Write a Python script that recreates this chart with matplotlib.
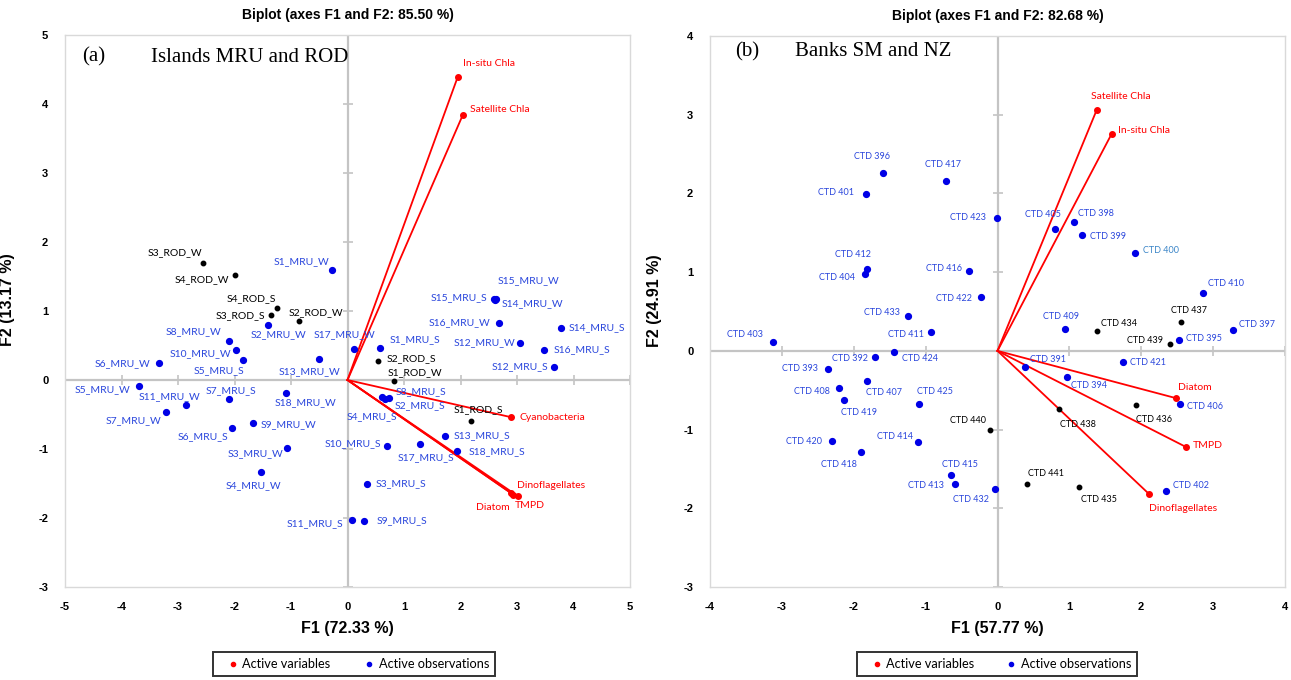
import matplotlib
matplotlib.use("Agg")
import matplotlib.pyplot as plt
from matplotlib.lines import Line2D

plt.rcParams["axes.unicode_minus"] = False

# ---- (a) Islands MRU and ROD -------------------------------------------
vars_a = ["In-situ Chla", "Satellite Chla", "Cyanobacteria",
          "Dinoflagellates", "Diatom", "TMPD"]
vars_a_f1 = [1.95, 2.04, 2.90, 2.90, 2.93, 3.01]
vars_a_f2 = [4.39, 3.84, -0.54, -1.64, -1.66, -1.68]

obs_a = ["S3_ROD_W", "S4_ROD_W", "S1_MRU_W", "S4_ROD_S", "S3_ROD_S", "S2_MRU_W",
         "S2_ROD_W", "S8_MRU_W", "S10_MRU_W", "S5_MRU_S", "S6_MRU_W", "S13_MRU_W",
         "S17_MRU_W", "S5_MRU_W", "S11_MRU_W", "S7_MRU_W", "S7_MRU_S", "S18_MRU_W",
         "S9_MRU_W", "S6_MRU_S", "S3_MRU_W", "S4_MRU_W", "S1_MRU_S", "S2_ROD_S",
         "S1_ROD_W", "S8_MRU_S", "S2_MRU_S", "S4_MRU_S", "S1_ROD_S", "S13_MRU_S",
         "S10_MRU_S", "S17_MRU_S", "S18_MRU_S", "S3_MRU_S", "S11_MRU_S", "S9_MRU_S",
         "S15_MRU_S", "S15_MRU_W", "S14_MRU_W", "S16_MRU_W", "S14_MRU_S", "S12_MRU_W",
         "S16_MRU_S", "S12_MRU_S"]
obs_a_f1 = [-2.56, -1.99, -0.27, -1.25, -1.35, -1.40,
            -0.86, -2.09, -1.97, -1.85, -3.33, -0.51,
            0.12, -3.69, -2.85, -3.21, -2.10, -1.08,
            -1.68, -2.05, -1.07, -1.53, 0.58, 0.54,
            0.82, 0.73, 0.67, 0.61, 2.19, 1.72,
            0.70, 1.29, 1.94, 0.34, 0.08, 0.30,
            2.60, 2.62, 2.61, 2.68, 3.78, 3.06,
            3.47, 3.65]
obs_a_f2 = [1.69, 1.52, 1.59, 1.05, 0.94, 0.80,
            0.85, 0.57, 0.43, 0.29, 0.24, 0.30,
            0.45, -0.09, -0.36, -0.47, -0.28, -0.19,
            -0.63, -0.69, -0.98, -1.33, 0.46, 0.27,
            -0.02, -0.26, -0.27, -0.25, -0.60, -0.81,
            -0.95, -0.93, -1.03, -1.50, -2.03, -2.05,
            1.17, 1.18, 1.16, 0.83, 0.76, 0.53,
            0.44, 0.19]

# ---- (b) Banks SM and NZ -------------------------------------------------
vars_b = ["Satellite Chla", "In-situ Chla", "Diatom", "TMPD", "Dinoflagellates"]
vars_b_f1 = [1.38, 1.59, 2.48, 2.62, 2.11]
vars_b_f2 = [3.06, 2.76, -0.60, -1.22, -1.82]

obs_b = ["CTD 396", "CTD 417", "CTD 401", "CTD 423", "CTD 412", "CTD 404",
         "CTD 416", "CTD 422", "CTD 433", "CTD 411", "CTD 403", "CTD 424",
         "CTD 392", "CTD 393", "CTD 407", "CTD 408", "CTD 419", "CTD 425",
         "CTD 440", "CTD 420", "CTD 414", "CTD 418", "CTD 415", "CTD 413",
         "CTD 432", "CTD 405", "CTD 398", "CTD 399", "CTD 400", "CTD 410",
         "CTD 437", "CTD 397", "CTD 409", "CTD 434", "CTD 439", "CTD 395",
         "CTD 391", "CTD 421", "CTD 394", "CTD 406", "CTD 436", "CTD 438",
         "CTD 441", "CTD 435", "CTD 402"]
obs_b_f1 = [-1.59, -0.71, -1.83, -0.01, -1.82, -1.84,
            -0.39, -0.23, -1.24, -0.93, -3.13, -1.44,
            -1.70, -2.36, -1.81, -2.21, -2.13, -1.09,
            -0.11, -2.30, -1.10, -1.90, -0.65, -0.59,
            -0.03, 0.80, 1.07, 1.17, 1.91, 2.86,
            2.55, 3.27, 0.94, 1.39, 2.40, 2.52,
            0.38, 1.74, 0.97, 2.54, 1.92, 0.86,
            0.41, 1.13, 2.34]
obs_b_f2 = [2.26, 2.16, 1.99, 1.69, 1.04, 0.98,
            1.02, 0.69, 0.44, 0.24, 0.11, -0.01,
            -0.08, -0.23, -0.38, -0.47, -0.63, -0.67,
            -1.01, -1.14, -1.16, -1.28, -1.58, -1.69,
            -1.75, 1.55, 1.64, 1.47, 1.24, 0.73,
            0.37, 0.26, 0.28, 0.25, 0.09, 0.14,
            -0.20, -0.14, -0.33, -0.67, -0.69, -0.74,
            -1.69, -1.73, -1.78]

# stations drawn in black
dark_b = {"CTD 434", "CTD 435", "CTD 436", "CTD 437",
          "CTD 438", "CTD 439", "CTD 440", "CTD 441"}

# label placement: name -> (dx px, dy px, ha)
place_a = {
    "In-situ Chla": (31, 14, "center"), "Satellite Chla": (7, 6, "left"),
    "Cyanobacteria": (8, 0, "left"), "Dinoflagellates": (6, 8, "left"),
    "Diatom": (-20, -13, "center"), "TMPD": (12, -10, "center"),
    "S3_ROD_W": (-28, 11, "center"), "S4_ROD_W": (-6, -5, "right"),
    "S1_MRU_W": (-3, 9, "right"), "S4_ROD_S": (-1, 9, "right"),
    "S3_ROD_S": (-6, 0, "right"), "S2_MRU_W": (10, -10, "center"),
    "S2_ROD_W": (17, 9, "center"), "S8_MRU_W": (-8, 9, "right"),
    "S10_MRU_W": (-5, -3, "right"), "S5_MRU_S": (-24, -11, "center"),
    "S6_MRU_W": (-9, 0, "right"), "S13_MRU_W": (-9, -12, "center"),
    "S17_MRU_W": (-10, 14, "center"), "S5_MRU_W": (-9, -3, "right"),
    "S11_MRU_W": (-17, 8, "center"), "S7_MRU_W": (-5, -8, "right"),
    "S7_MRU_S": (2, 9, "center"), "S18_MRU_W": (19, -10, "center"),
    "S9_MRU_W": (8, -1, "left"), "S6_MRU_S": (-29, -9, "center"),
    "S3_MRU_W": (-4, -6, "right"), "S4_MRU_W": (-8, -14, "center"),
    "S1_MRU_S": (9, 9, "left"), "S2_ROD_S": (9, 3, "left"),
    "S1_ROD_W": (-6, 9, "left"), "S8_MRU_S": (7, 6, "left"),
    "S2_MRU_S": (9, -7, "left"), "S4_MRU_S": (-10, -19, "center"),
    "S1_ROD_S": (7, 12, "center"), "S13_MRU_S": (9, 0, "left"),
    "S10_MRU_S": (-6, 2, "right"), "S17_MRU_S": (6, -13, "center"),
    "S18_MRU_S": (12, -1, "left"), "S3_MRU_S": (9, 0, "left"),
    "S11_MRU_S": (-9, -4, "right"), "S9_MRU_S": (12, 1, "left"),
    "S15_MRU_S": (-7, 2, "right"), "S15_MRU_W": (2, 18, "left"),
    "S14_MRU_W": (7, -4, "left"), "S16_MRU_W": (-9, 0, "right"),
    "S14_MRU_S": (8, 0, "left"), "S12_MRU_W": (-5, 1, "right"),
    "S16_MRU_S": (10, 0, "left"), "S12_MRU_S": (-5, 0, "right"),
}
place_b = {
    "Satellite Chla": (24, 13, "center"), "In-situ Chla": (6, 3, "left"),
    "Diatom": (19, 11, "center"), "TMPD": (7, 1, "left"),
    "Dinoflagellates": (34, -14, "center"),
    "CTD 396": (-11, 16, "center"), "CTD 417": (-3, 16, "center"),
    "CTD 401": (-12, 2, "right"), "CTD 423": (-11, 0, "right"),
    "CTD 412": (-14, 14, "center"), "CTD 404": (-10, -4, "right"),
    "CTD 416": (-7, 2, "right"), "CTD 422": (-9, -2, "right"),
    "CTD 433": (-8, 4, "right"), "CTD 411": (-7, -3, "right"),
    "CTD 403": (-10, 8, "right"), "CTD 424": (8, -7, "left"),
    "CTD 392": (-7, -1, "right"), "CTD 393": (-10, 0, "right"),
    "CTD 407": (17, -12, "center"), "CTD 408": (-9, -4, "right"),
    "CTD 419": (15, -12, "center"), "CTD 425": (16, 12, "center"),
    "CTD 440": (-22, 10, "center"), "CTD 420": (-10, -1, "right"),
    "CTD 414": (-5, 6, "right"), "CTD 418": (-22, -13, "center"),
    "CTD 415": (9, 11, "center"), "CTD 413": (-11, -2, "right"),
    "CTD 432": (-24, -11, "center"), "CTD 405": (-12, 14, "center"),
    "CTD 398": (4, 8, "left"), "CTD 399": (8, -1, "left"),
    "CTD 400": (8, 3, "left"), "CTD 410": (5, 10, "left"),
    "CTD 437": (8, 11, "center"), "CTD 397": (6, 6, "left"),
    "CTD 409": (-4, 12, "center"), "CTD 434": (4, 8, "left"),
    "CTD 439": (-7, 3, "right"), "CTD 395": (7, 1, "left"),
    "CTD 391": (5, 7, "left"), "CTD 421": (7, -1, "left"),
    "CTD 394": (22, -9, "center"), "CTD 406": (7, -3, "left"),
    "CTD 436": (19, -14, "center"), "CTD 438": (19, -15, "center"),
    "CTD 441": (19, 10, "center"), "CTD 435": (20, -12, "center"),
    "CTD 402": (7, 5, "left"),
}

RED = "#ff0000"
BLUE_DOT = "#0000e6"
BLUE_TXT = "#2a46dc"
GRID = "#c4c4c4"
LABEL_FONT = ["Lato", "DejaVu Sans"]
AXIS_FONT = ["Liberation Sans", "DejaVu Sans"]
SERIF = ["Liberation Serif", "DejaVu Serif"]


def draw_biplot(ax, xlim, ylim, v_names, v_x, v_y, o_names, o_x, o_y,
                place, is_dark, lab_size, special=None):
    special = special or {}
    ax.set_xlim(*xlim)
    ax.set_ylim(*ylim)
    for s in ax.spines.values():
        s.set_color("#d9d9d9")
        s.set_linewidth(1.0)

    xt = list(range(int(xlim[0]), int(xlim[1]) + 1))
    yt = list(range(int(ylim[0]), int(ylim[1]) + 1))
    ax.set_xticks(xt)
    ax.set_yticks(yt)
    ax.tick_params(length=0)
    ax.tick_params(axis="x", pad=11)
    ax.tick_params(axis="y", pad=12)
    for lab in ax.get_xticklabels() + ax.get_yticklabels():
        lab.set_fontweight("bold")
        lab.set_fontsize(8)
        lab.set_family(AXIS_FONT)

    # axes through the origin with their own tick marks
    ax.axhline(0, color=GRID, lw=1.6, zorder=1)
    ax.axvline(0, color=GRID, lw=1.6, zorder=1)
    ax.plot(xt, [0] * len(xt), ls="", marker="|", ms=7, mew=1.2,
            color=GRID, zorder=1)
    ax.plot([0] * len(yt), yt, ls="", marker="_", ms=7, mew=1.2,
            color=GRID, zorder=1)

    # observations
    for n, x, y in zip(o_names, o_x, o_y):
        dark = is_dark(n)
        ax.plot(x, y, "o", ms=3.2 if dark else 4.2,
                color="black" if dark else BLUE_DOT, zorder=3)
        dx, dy, ha = place[n]
        col = "black" if dark else special.get(n, BLUE_TXT)
        ax.annotate(n, (x, y), xytext=(dx, dy), textcoords="offset pixels",
                    ha=ha, va="center", fontsize=lab_size, color=col,
                    family=LABEL_FONT, zorder=4)

    # variables as vectors from the origin
    for n, x, y in zip(v_names, v_x, v_y):
        ax.plot([0, x], [0, y], color=RED, lw=1.3, zorder=2)
        ax.plot(x, y, "o", ms=4, color=RED, zorder=3)
        dx, dy, ha = place[n]
        ax.annotate(n, (x, y), xytext=(dx, dy), textcoords="offset pixels",
                    ha=ha, va="center", fontsize=7.5, color=RED,
                    family=LABEL_FONT, zorder=4)


def decorate(ax, title, xlab, ylab, ylab_x, panel, region, px, rx, py, leg_box):
    ax.text(0.5, 1.036, title, transform=ax.transAxes, ha="center",
            va="center", fontsize=10, fontweight="bold", family=AXIS_FONT)
    ax.set_xlabel(xlab, fontsize=11.5, fontweight="bold", family=AXIS_FONT)
    ax.xaxis.set_label_coords(0.5, -0.062)
    ax.set_ylabel(ylab, fontsize=11.5, fontweight="bold", family=AXIS_FONT)
    ax.yaxis.set_label_coords(ylab_x, 0.52)
    ax.text(px, py, panel, transform=ax.transAxes, ha="left", va="center",
            fontsize=15, family=SERIF)
    ax.text(rx, py, region, transform=ax.transAxes, ha="left", va="center",
            fontsize=15, family=SERIF)
    handles = [
        Line2D([], [], ls="", marker="o", ms=3, color=RED,
               label="Active variables"),
        Line2D([], [], ls="", marker="o", ms=3, color=BLUE_DOT,
               label="Active observations"),
    ]
    leg = ax.legend(handles=handles, loc="center", ncol=2, mode="expand",
                    bbox_to_anchor=leg_box, frameon=True, fancybox=False,
                    edgecolor="black", handlelength=2.2, handletextpad=-0.35,
                    columnspacing=1.0, borderpad=0.45, borderaxespad=0,
                    prop={"family": LABEL_FONT, "size": 9.2})
    leg.get_frame().set_linewidth(1.4)


fig = plt.figure(figsize=(12.91, 6.80), dpi=100)
ax_a = fig.add_axes([65 / 1291, 1 - 587 / 680, 565 / 1291, 552 / 680])
ax_b = fig.add_axes([710 / 1291, 1 - 587 / 680, 575 / 1291, 551 / 680])

draw_biplot(ax_a, (-5, 5), (-3, 5), vars_a, vars_a_f1, vars_a_f2,
            obs_a, obs_a_f1, obs_a_f2, place_a,
            lambda n: "ROD" in n, 7.5)
decorate(ax_a, "Biplot (axes F1 and F2: 85.50 %)", "F1 (72.33 %)",
         "F2 (13.17 %)", -0.0885, "(a)", "Islands MRU and ROD",
         0.03, 0.152, 0.96, (0.262, -0.166, 0.499, 0.0525))

draw_biplot(ax_b, (-4, 4), (-3, 4), vars_b, vars_b_f1, vars_b_f2,
            obs_b, obs_b_f1, obs_b_f2, place_b,
            lambda n: n in dark_b, 6.5, special={"CTD 400": "#3c86c8"})
decorate(ax_b, "Biplot (axes F1 and F2: 82.68 %)", "F1 (57.77 %)",
         "F2 (24.91 %)", -0.0835, "(b)", "Banks SM and NZ",
         0.043, 0.148, 0.971, (0.2557, -0.166, 0.487, 0.0525))

fig.savefig("out.png", dpi=100)
